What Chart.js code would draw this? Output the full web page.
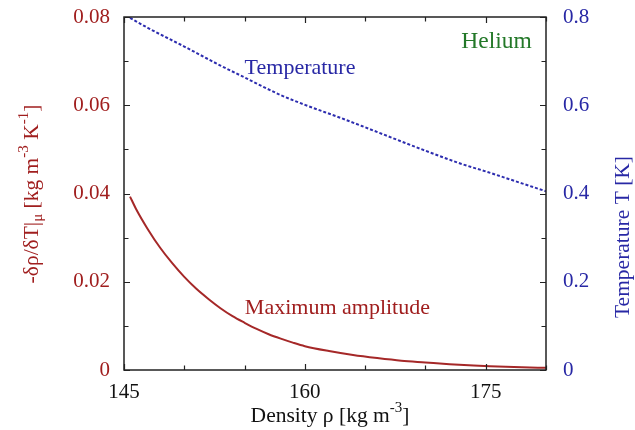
<!DOCTYPE html>
<html><head><meta charset="utf-8">
<script src="https://cdn.jsdelivr.net/npm/chart.js@4"></script>
<style>html,body{margin:0;padding:0;background:#fff}canvas{display:block}</style>
</head><body>
<canvas id="c" width="635" height="430"></canvas>
<script>
// Data
const densityAmp = [145.5,146,147,148,149,150,151,152,153,154,155,156,157,158,159,160,162,164,166,168,170,172,174,176,178,180];
const amplitude  = [0.0393,0.0365,0.0318,0.0277,0.0242,0.0211,0.0184,0.0161,0.0140,0.0122,0.0107,0.0093,0.0081,0.0071,0.0062,0.0054,0.0043,0.0034,0.0027,0.0021,0.0017,0.0013,0.0010,0.0008,0.0006,0.0005];
const densityT    = [145.5,147,150,153,155,158,160,163,165,168,170,173,175,178,180];
const temperature = [0.798,0.775,0.733,0.690,0.663,0.623,0.601,0.571,0.550,0.518,0.497,0.467,0.450,0.423,0.405];
const xTickLabels = [145,160,175];
const leftTickLabels = [0,0.02,0.04,0.06,0.08];
const rightTickLabels = [0,0.2,0.4,0.6,0.8];

const RED = 'rgb(160,30,30)';
const BLUE = 'rgb(40,40,165)';
const GREEN = 'rgb(35,120,40)';
const FONT = '"Liberation Serif", "Times New Roman", serif';

function near(v, list){ return list.some(l => Math.abs(l - v) < 1e-6); }

const framePlugin = {
  id: 'frame',
  afterDraw(chart){
    const ctx = chart.ctx, a = chart.chartArea;
    const x = chart.scales.x, y = chart.scales.y, y2 = chart.scales.y2;
    ctx.save();
    ctx.strokeStyle = '#222';
    ctx.lineWidth = 1.5;
    ctx.strokeRect(a.left, a.top, a.right - a.left, a.bottom - a.top);
    ctx.lineWidth = 1.2;
    ctx.beginPath();
    x.ticks.forEach(t => {
      const px = Math.round(x.getPixelForValue(t.value)) + 0.5;
      const len = near(t.value, xTickLabels) ? 6 : 4.5;
      ctx.moveTo(px, a.bottom); ctx.lineTo(px, a.bottom - len);
      ctx.moveTo(px, a.top); ctx.lineTo(px, a.top + len);
    });
    y.ticks.forEach(t => {
      const py = Math.round(y.getPixelForValue(t.value)) + 0.5;
      const len = near(t.value, leftTickLabels) ? 6 : 4.5;
      ctx.moveTo(a.left, py); ctx.lineTo(a.left + len, py);
    });
    y2.ticks.forEach(t => {
      const py = Math.round(y2.getPixelForValue(t.value)) + 0.5;
      const len = near(t.value, rightTickLabels) ? 6 : 4.5;
      ctx.moveTo(a.right, py); ctx.lineTo(a.right - len, py);
    });
    ctx.stroke();

    // Annotations inside the plot
    ctx.textAlign = 'center';
    ctx.textBaseline = 'middle';
    ctx.font = '22px ' + FONT;
    ctx.fillStyle = BLUE;
    ctx.fillText('Temperature', x.getPixelForValue(159.6), y2.getPixelForValue(0.684));
    ctx.fillStyle = RED;
    ctx.fillText('Maximum amplitude', x.getPixelForValue(162.7), y.getPixelForValue(0.0141));
    ctx.fillStyle = GREEN;
    ctx.font = '23.5px ' + FONT;
    ctx.fillText('Helium', x.getPixelForValue(175.9), y.getPixelForValue(0.0743));

    // Axis titles
    drawRich(ctx, [['-δρ/δT|',0],['μ',-1],[' [kg m',0],['-3',1],[' K',0],['-1',1],[']',0]],
             32, 194, -Math.PI/2, RED, 21.5);
    drawRich(ctx, [['Temperature T [K]',0]], 623, 237, -Math.PI/2, BLUE, 21.5);
    drawRich(ctx, [['Density ρ [kg m',0],['-3',1],[']',0]], 330, 416, 0, '#111', 21.5);
    ctx.restore();
  }
};

function drawRich(ctx, parts, cx, cy, rot, color, size){
  ctx.save();
  ctx.translate(cx, cy);
  ctx.rotate(rot);
  ctx.fillStyle = color;
  ctx.textBaseline = 'middle';
  ctx.textAlign = 'left';
  let w = 0;
  parts.forEach(([s, k]) => {
    ctx.font = (k ? Math.round(size*0.68) : size) + 'px ' + FONT;
    w += ctx.measureText(s).width;
  });
  let xx = -w/2;
  parts.forEach(([s, k]) => {
    ctx.font = (k ? Math.round(size*0.68) : size) + 'px ' + FONT;
    const dy = k === 1 ? -size*0.38 : (k === -1 ? size*0.3 : 0);
    ctx.fillText(s, xx, dy);
    xx += ctx.measureText(s).width;
  });
  ctx.restore();
}

function fixV(w){ return s => { s.width = w; s.paddingTop = 0; s.paddingBottom = 0; }; }

new Chart(document.getElementById('c'), {
  type: 'line',
  data: {
    datasets: [
      {
        label: 'Maximum amplitude',
        data: densityAmp.map((d, i) => ({x: d, y: amplitude[i]})),
        yAxisID: 'y',
        borderColor: 'rgb(165,40,40)',
        borderWidth: 2,
        pointRadius: 0,
        cubicInterpolationMode: 'monotone',
        fill: false
      },
      {
        label: 'Temperature',
        data: densityT.map((d, i) => ({x: d, y: temperature[i]})),
        yAxisID: 'y2',
        borderColor: 'rgb(45,45,175)',
        borderWidth: 2,
        borderDash: [3, 2],
        pointRadius: 0,
        cubicInterpolationMode: 'monotone',
        fill: false
      }
    ]
  },
  options: {
    responsive: false,
    animation: false,
    layout: { padding: { top: 17, left: 0, right: 0, bottom: 0 } },
    plugins: { legend: { display: false }, tooltip: { enabled: false } },
    scales: {
      x: {
        type: 'linear', min: 145, max: 180,
        grid: { display: false, drawTicks: false },
        border: { display: false },
        ticks: {
          stepSize: 5, autoSkip: false, maxRotation: 0, padding: 10,
          color: '#111', font: { family: FONT, size: 21 },
          callback: v => near(v, xTickLabels) ? String(v) : ''
        },
        afterFit: s => { s.height = 60; s.paddingLeft = 0; s.paddingRight = 0; }
      },
      y: {
        type: 'linear', position: 'left', min: 0, max: 0.08,
        grid: { display: false, drawTicks: false },
        border: { display: false },
        ticks: {
          stepSize: 0.01, autoSkip: false, padding: 14,
          color: RED, font: { family: FONT, size: 21 },
          callback: v => near(v, leftTickLabels) ? (Math.abs(v) < 1e-9 ? '0' : v.toFixed(2)) : ''
        },
        afterFit: fixV(124)
      },
      y2: {
        type: 'linear', position: 'right', min: 0, max: 0.8,
        grid: { display: false, drawTicks: false },
        border: { display: false },
        ticks: {
          stepSize: 0.1, autoSkip: false, padding: 17,
          color: BLUE, font: { family: FONT, size: 21 },
          callback: v => near(v, rightTickLabels) ? (Math.abs(v) < 1e-9 ? '0' : v.toFixed(1)) : ''
        },
        afterFit: fixV(89)
      }
    }
  },
  plugins: [framePlugin]
});
</script>
</body></html>
